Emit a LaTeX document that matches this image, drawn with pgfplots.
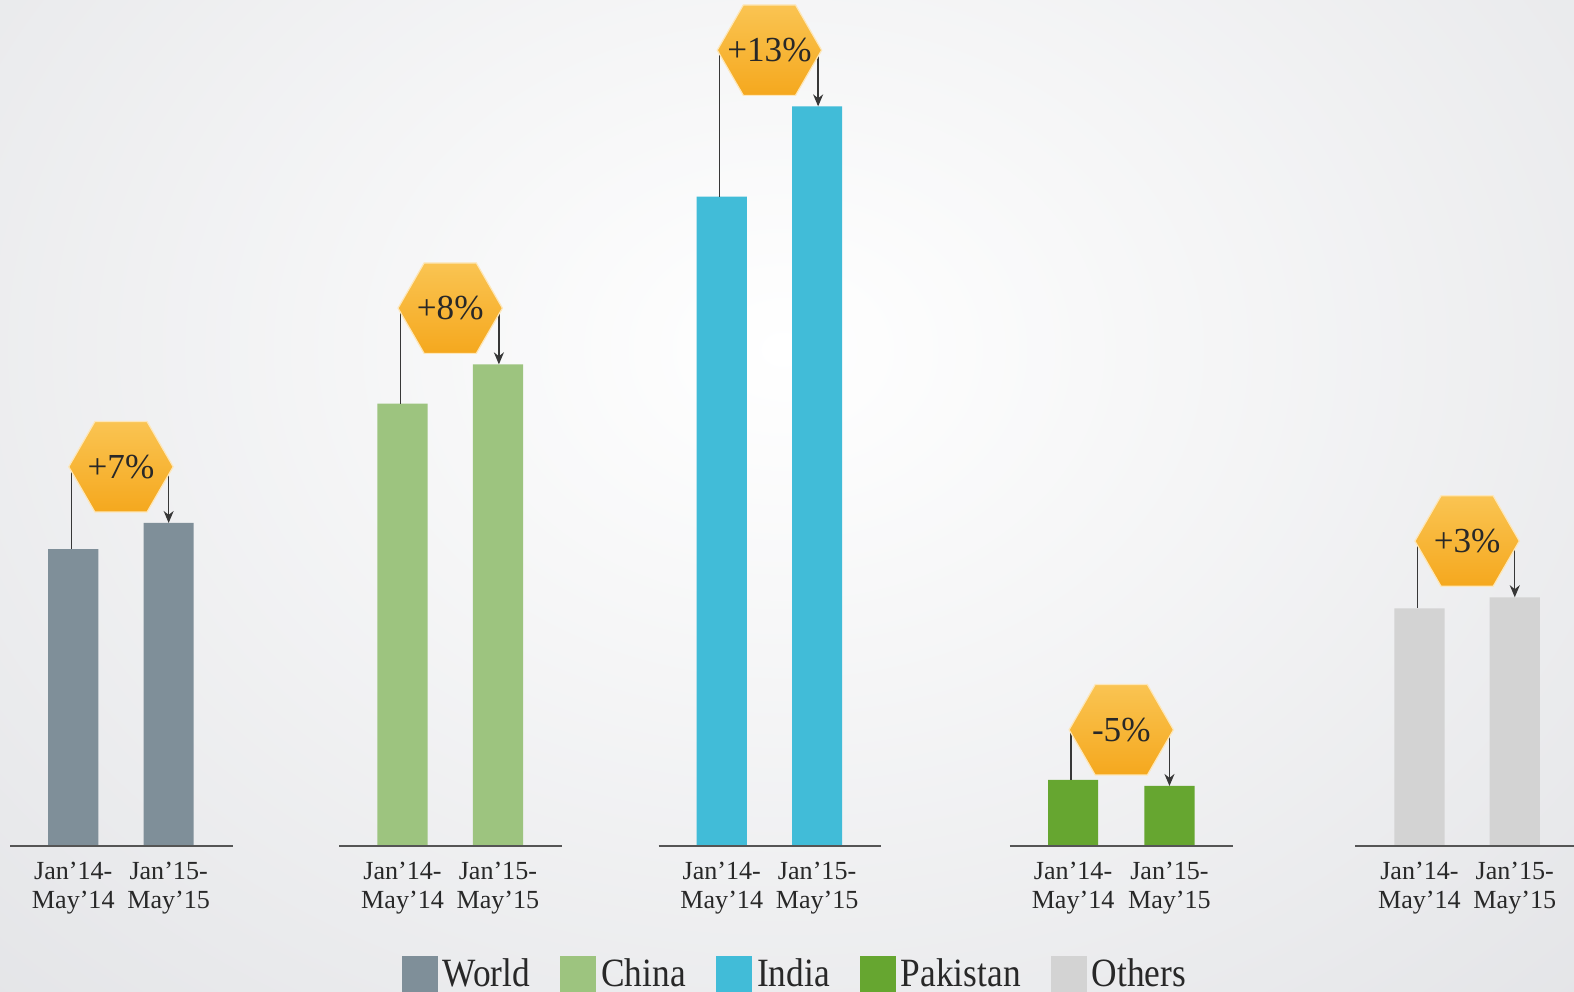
\documentclass[border=0pt]{standalone}
\usepackage{fontspec}
\setmainfont{Liberation Serif}
\newfontfamily\legfont{Liberation Serif}[FakeStretch=0.88]
\usepackage{pgfplots}
\pgfplotsset{compat=1.18}
\usetikzlibrary{shapes.geometric,arrows.meta}
\definecolor{bgc}{RGB}{225,226,229}
\definecolor{worldc}{RGB}{127,143,153}
\definecolor{chinac}{RGB}{157,196,127}
\definecolor{indiac}{RGB}{65,188,216}
\definecolor{pakc}{RGB}{102,166,48}
\definecolor{othc}{RGB}{211,211,211}
\definecolor{basec}{RGB}{85,85,85}
\definecolor{connc}{RGB}{55,55,55}
\definecolor{textc}{RGB}{40,40,40}
\definecolor{hextop}{RGB}{250,196,82}
\definecolor{hexbot}{RGB}{245,168,30}
\begin{document}
\begin{tikzpicture}
\begin{scope}
\clip (0,0) rectangle (784pt,494pt);
\fill[bgc] (0,0) rectangle (784pt,494pt);
\shade[inner color=white, outer color=bgc] (390pt,320pt) ellipse (640pt and 500pt);
\end{scope}
\begin{axis}[
  at={(0,0)}, anchor=south west,
  scale only axis, width=784pt, height=494pt,
  xmin=0, xmax=1568, ymin=-145, ymax=843,
  axis x line=middle, axis y line=none,
  axis line style={draw=none},
  ytick=\empty,
  xtick={73,168,401,496,719,814,1069,1165,1414,1509},
  xticklabels={
    {Jan’14-\\May’14},{Jan’15-\\May’15},
    {Jan’14-\\May’14},{Jan’15-\\May’15},
    {Jan’14-\\May’14},{Jan’15-\\May’15},
    {Jan’14-\\May’14},{Jan’15-\\May’15},
    {Jan’14-\\May’14},{Jan’15-\\May’15}},
  major tick length=0pt,
  xticklabel style={align=center, font=\fontsize{13}{14.5}\selectfont, text=textc, anchor=north, yshift=-4.5pt},
  clip=false,
  legend columns=-1,
  legend style={at={(axis cs:400,-127)}, anchor=west, draw=none, fill=none,
    inner sep=0pt, outer sep=0pt, font=\legfont\fontsize{20}{22}\selectfont, text=textc,
    nodes={inner sep=0pt, outer sep=0pt},
    /tikz/every odd column/.append style={column sep=2.5pt},
    /tikz/every even column/.append style={column sep=15pt}},
]
% bars
\addplot[ybar, bar width=50, bar shift=0pt, fill=worldc, draw=none,
  legend image code/.code={\fill[worldc] (0pt,-9pt) rectangle (18pt,9pt);}]
  coordinates {(73,296) (168,322)};
\addlegendentry{World}
\addplot[ybar, bar width=50, bar shift=0pt, fill=chinac, draw=none,
  legend image code/.code={\fill[chinac] (0pt,-9pt) rectangle (18pt,9pt);}]
  coordinates {(401,441) (496,480)};
\addlegendentry{China}
\addplot[ybar, bar width=50, bar shift=0pt, fill=indiac, draw=none,
  legend image code/.code={\fill[indiac] (0pt,-9pt) rectangle (18pt,9pt);}]
  coordinates {(719,647) (814,737)};
\addlegendentry{India}
\addplot[ybar, bar width=50, bar shift=0pt, fill=pakc, draw=none,
  legend image code/.code={\fill[pakc] (0pt,-9pt) rectangle (18pt,9pt);}]
  coordinates {(1069,66) (1165,60)};
\addlegendentry{Pakistan}
\addplot[ybar, bar width=50, bar shift=0pt, fill=othc, draw=none,
  legend image code/.code={\fill[othc] (0pt,-9pt) rectangle (18pt,9pt);}]
  coordinates {(1414,237) (1509,248)};
\addlegendentry{Others}
% baselines
\addplot[forget plot, basec, line width=1pt] coordinates {(10,0) (232,0)};
\addplot[forget plot, basec, line width=1pt] coordinates {(338,0) (560,0)};
\addplot[forget plot, basec, line width=1pt] coordinates {(656,0) (878,0)};
\addplot[forget plot, basec, line width=1pt] coordinates {(1006,0) (1228,0)};
\addplot[forget plot, basec, line width=1pt] coordinates {(1350,0) (1568,0)};
% connectors
\pgfplotsset{arr/.style={forget plot, connc, line width=0.7pt, -{Stealth[length=6pt,width=5pt]}},
  lin/.style={forget plot, connc, line width=0.7pt}}
\addplot[lin] coordinates {(71,378) (71,296)};
\addplot[arr] coordinates {(168,378) (168,322)};
\addplot[lin] coordinates {(399,536) (399,441)};
\addplot[arr] coordinates {(497,536) (497,480)};
\addplot[lin] coordinates {(717,793) (717,647)};
\addplot[arr] coordinates {(815,793) (815,737)};
\addplot[lin] coordinates {(1067,116) (1067,66)};
\addplot[arr] coordinates {(1165,116) (1165,60)};
\addplot[lin] coordinates {(1412,304) (1412,237)};
\addplot[arr] coordinates {(1509,304) (1509,248)};
% badges
\addplot[forget plot, draw=none, mark=none,
  nodes near coords={\makebox[0pt]{\pgfplotspointmeta}}, point meta=explicit symbolic,
  nodes near coords align={center},
  every node near coord/.append style={regular polygon, regular polygon sides=6,
    minimum size=52pt, inner sep=0pt, anchor=center,
    top color=hextop, bottom color=hexbot, draw=white!60!hextop, line width=0.6pt,
    text=textc, font=\fontsize{17.5}{20}\selectfont}]
  coordinates {(120.5,378) [+7\%] (448.5,536) [+8\%] (766.5,793) [+13\%] (1117,116) [-5\%] (1461.5,304) [+3\%]};
\end{axis}
\pgfresetboundingbox
\path (0,0) rectangle (784pt,494pt);
\end{tikzpicture}
\end{document}
